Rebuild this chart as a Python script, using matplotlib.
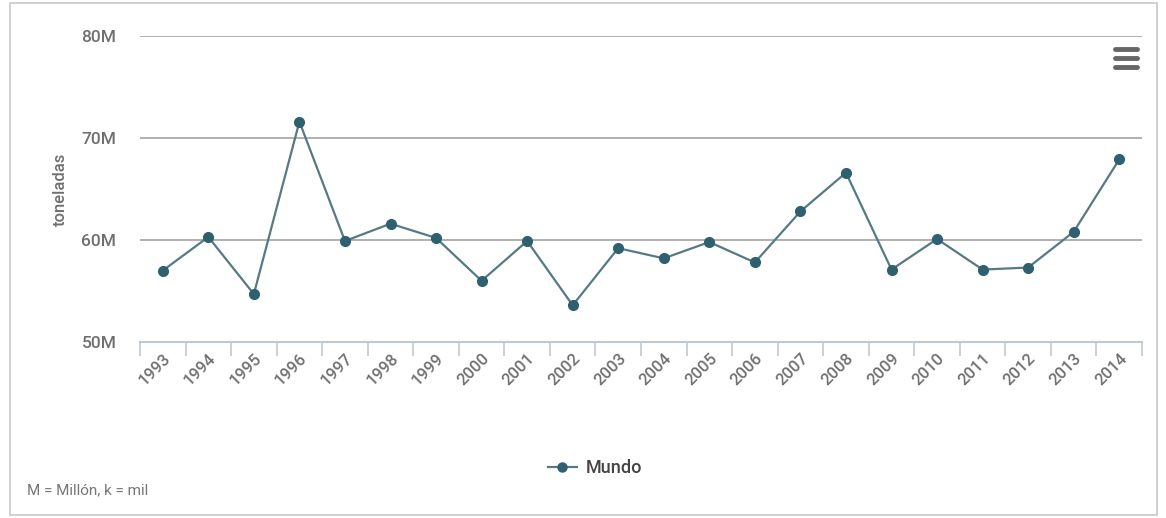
import matplotlib
matplotlib.use("Agg")
import matplotlib.pyplot as plt
from matplotlib.lines import Line2D
from matplotlib.patches import Rectangle
from matplotlib.ticker import FuncFormatter, FixedLocator

plt.rcParams['font.family'] = ['Roboto', 'DejaVu Sans']

years = ["1993", "1994", "1995", "1996", "1997", "1998", "1999", "2000", "2001", "2002", "2003",
         "2004", "2005", "2006", "2007", "2008", "2009", "2010", "2011", "2012", "2013", "2014"]
mundo = [57.0, 60.3, 54.7, 71.6, 59.9, 61.6, 60.2, 56.0, 59.9, 53.6, 59.2,
         58.2, 59.8, 57.8, 62.8, 66.6, 57.1, 60.1, 57.1, 57.3, 60.8, 67.9]  # millions of tonnes
y_ticks = [50, 60, 70, 80]

W, H = 1166, 518
fig = plt.figure(figsize=(W / 100, H / 100), dpi=100)
fig.patch.set_facecolor("white")

# outer frame (card border)
fig.add_artist(Rectangle((10 / W, 3 / H), (1157 - 10) / W, (515 - 3) / H,
                         transform=fig.transFigure, fill=False, edgecolor="#c8c8c8", lw=1.2))

ax = fig.add_axes([140 / W, 1 - 342 / H, (1142 - 140) / W, (342 - 36) / H])
x = list(range(len(years)))
ax.plot(x, mundo, color="#557a85", lw=1.6, marker="o", markersize=7,
        markerfacecolor="#2f6070", markeredgecolor="#2f6070", zorder=3, label="Mundo")

ax.set_xlim(-0.5, len(years) - 0.5)
ax.set_ylim(50, 80)
ax.set_yticks(y_ticks)
ax.yaxis.set_major_formatter(FuncFormatter(lambda v, p: f"{int(v)}M"))
ax.grid(axis="y", color="#aaaaaa", lw=1.3)
ax.set_axisbelow(True)

for s in ["top", "right", "left"]:
    ax.spines[s].set_visible(False)
ax.spines["bottom"].set_color("#bfc9d2")
ax.spines["bottom"].set_linewidth(1.5)

ax.tick_params(axis="y", length=0, pad=17, labelsize=12.5, labelcolor="#6f6f6f")
for t in ax.get_yticklabels():
    t.set_fontweight("medium")
ax.set_xticks(x)
ax.set_xticklabels(years, rotation=45, ha="right", rotation_mode="anchor",
                   fontsize=12, color="#707070", fontweight="medium")
ax.tick_params(axis="x", which="major", length=0, pad=6)
ax.xaxis.set_minor_locator(FixedLocator([i - 0.5 for i in range(len(years) + 1)]))
ax.tick_params(axis="x", which="minor", length=10, color="#bfc9d2", width=1.2)

ax.set_ylabel("toneladas", fontsize=12, color="#6f6f6f", labelpad=10, fontweight="medium")

leg = fig.legend(handles=[Line2D([0], [0], color="#557a85", lw=1.6, marker="o", markersize=6.5,
                                 markerfacecolor="#2f6070", markeredgecolor="#2f6070")],
                 labels=["Mundo"], loc="center", bbox_to_anchor=(595 / W, 1 - 468 / H),
                 frameon=False, handlelength=1.6, handletextpad=0.5,
                 prop={"size": 13, "weight": "medium"})
for t in leg.get_texts():
    t.set_color("#444444")

fig.text(27 / W, 1 - 490 / H, "M = Millón, k = mil", fontsize=11, color="#777777",
         ha="left", va="center")

# menu (hamburger) icon
for yy in (49, 58, 67):
    fig.add_artist(Line2D([1115 / W, 1137 / W], [1 - yy / H, 1 - yy / H],
                          transform=fig.transFigure, color="#666666", lw=3.5,
                          solid_capstyle="round"))

fig.savefig("out.png", dpi=100, facecolor="white")
